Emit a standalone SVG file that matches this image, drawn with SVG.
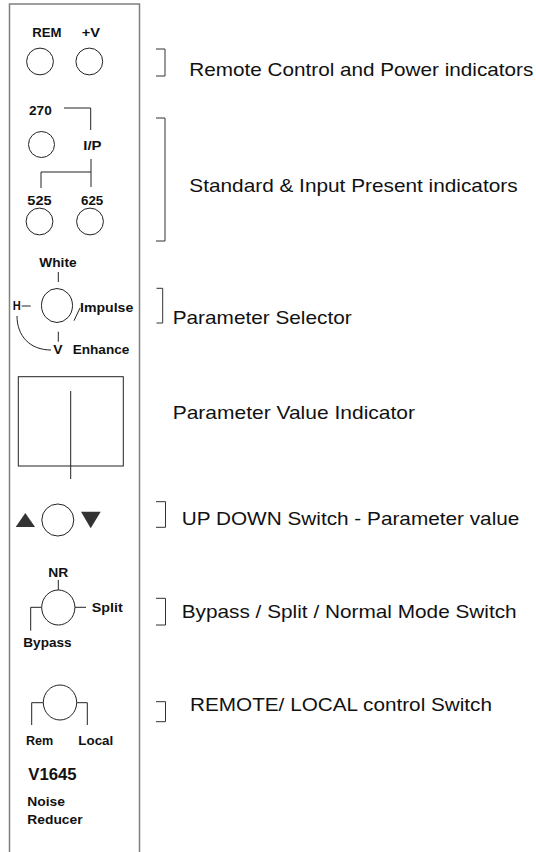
<svg xmlns="http://www.w3.org/2000/svg" width="536" height="852" viewBox="0 0 536 852">
<style>
.lbl{font-family:"Liberation Sans",Arial,sans-serif;font-weight:bold;font-size:12.5px;fill:#111}
.cap{font-family:"Liberation Sans",Arial,sans-serif;font-size:19px;fill:#111}
.ln{fill:none;stroke:#222;stroke-width:1}
.br{fill:none;stroke:#333;stroke-width:1}
.knob{fill:#fff;stroke:#222;stroke-width:1}
.tri{fill:#333}
</style>
<rect width="536" height="852" fill="#fff"/>
<g id="panel">
<path d="M9.5,860 V4 H139.5 V860" fill="none" stroke="#808080" stroke-width="1.5"/>
</g>
<g id="connectors">
<path class="ln" d="M64,108 H90.7 V130"/>
<path class="ln" d="M91,159 V187 M91,172 H41 V188"/>
<path class="ln" d="M58.3,272 V282"/>
<path class="ln" d="M21.7,306 H30.7"/>
<path class="ln" d="M74,320.7 L80,308"/>
<path class="ln" d="M58.3,331.7 V341.7"/>
<path class="ln" d="M17,316 C17,336 30,350 51,350"/>
<path class="ln" d="M70.7,391 V479"/>
<path class="ln" d="M58.3,580 V590"/>
<path class="ln" d="M75,607.3 H86"/>
<path class="ln" d="M41.7,607.3 H30.7 V630.7"/>
<path class="ln" d="M43.3,702.7 H31.7 V725"/>
<path class="ln" d="M76.7,702.7 H87.3 V725"/>
<path class="br" d="M156,49 H165 V76 H156"/>
<path class="br" d="M156,118 H165 V241 H156"/>
<path class="br" d="M156.5,288.3 H162.7 V323 H156.5"/>
<path class="br" d="M156,501.7 H165.5 V527.3 H156"/>
<path class="br" d="M156,598.3 H165.5 V625 H156"/>
<path class="br" d="M156,701.7 H165.5 V721.7 H156"/>
</g>
<g id="rem-indicator">
<text class="lbl" x="32.3" y="36.7" textLength="29.3" lengthAdjust="spacingAndGlyphs">REM</text>
<circle class="knob" cx="40" cy="61.5" r="13.4"/>
</g>
<g id="power-indicator">
<text class="lbl" x="81.7" y="36.7" textLength="18.3" lengthAdjust="spacingAndGlyphs">+V</text>
<circle class="knob" cx="89.3" cy="61.5" r="13.4"/>
</g>
<g id="ind-270">
<text class="lbl" x="29" y="115" textLength="22.7" lengthAdjust="spacingAndGlyphs">270</text>
<circle class="knob" cx="41.5" cy="144.5" r="13"/>
</g>
<g id="ind-ip">
<text class="lbl" x="83.3" y="150" textLength="18.3" lengthAdjust="spacingAndGlyphs">I/P</text>
</g>
<g id="ind-525">
<text class="lbl" x="27.3" y="205" textLength="24.3" lengthAdjust="spacingAndGlyphs">525</text>
<circle class="knob" cx="39.5" cy="221.5" r="13.4"/>
</g>
<g id="ind-625">
<text class="lbl" x="81" y="205" textLength="22.3" lengthAdjust="spacingAndGlyphs">625</text>
<circle class="knob" cx="90" cy="221.5" r="13.4"/>
</g>
<g id="parameter-selector">
<ellipse class="knob" cx="57" cy="305.5" rx="15.5" ry="17"/>
<text class="lbl" x="39.3" y="267" textLength="37.3" lengthAdjust="spacingAndGlyphs">White</text>
<text class="lbl" x="12.7" y="310" textLength="8" lengthAdjust="spacingAndGlyphs">H</text>
<text class="lbl" x="80" y="311.7" textLength="53.3" lengthAdjust="spacingAndGlyphs">Impulse</text>
<text class="lbl" x="53.3" y="354" textLength="9.3" lengthAdjust="spacingAndGlyphs">V</text>
<text class="lbl" x="72.7" y="354" textLength="56.7" lengthAdjust="spacingAndGlyphs">Enhance</text>
</g>
<g id="value-indicator">
<rect x="18.3" y="376.7" width="105" height="89.3" fill="none" stroke="#222" stroke-width="1"/>
</g>
<g id="updown-switch">
<polygon class="tri" points="25.3,513 15.7,527 35,527"/>
<circle class="knob" cx="57.8" cy="520" r="16"/>
<polygon class="tri" points="81,511.7 100.7,511.7 90.7,528.3"/>
</g>
<g id="mode-switch">
<text class="lbl" x="48.3" y="577.3" textLength="20" lengthAdjust="spacingAndGlyphs">NR</text>
<ellipse class="knob" cx="58.3" cy="607.5" rx="16.6" ry="17.5"/>
<text class="lbl" x="91.7" y="611.7" textLength="31" lengthAdjust="spacingAndGlyphs">Split</text>
<text class="lbl" x="23.3" y="646.7" textLength="48.3" lengthAdjust="spacingAndGlyphs">Bypass</text>
</g>
<g id="remote-local-switch">
<ellipse class="knob" cx="60" cy="702.5" rx="16.7" ry="17.5"/>
<text class="lbl" x="26" y="745" textLength="27.3" lengthAdjust="spacingAndGlyphs">Rem</text>
<text class="lbl" x="78.3" y="745" textLength="35" lengthAdjust="spacingAndGlyphs">Local</text>
</g>
<g id="model-label">
<text class="lbl" x="28.3" y="780" style="font-size:16px" textLength="48.3" lengthAdjust="spacingAndGlyphs">V1645</text>
<text class="lbl" x="27.3" y="806" style="font-size:13px" textLength="37.7" lengthAdjust="spacingAndGlyphs">Noise</text>
<text class="lbl" x="27.3" y="824" style="font-size:13px" textLength="55.3" lengthAdjust="spacingAndGlyphs">Reducer</text>
</g>
<g id="captions">
<text class="cap" x="189.3" y="75.5" textLength="344" lengthAdjust="spacingAndGlyphs">Remote Control and Power indicators</text>
<text class="cap" x="189.3" y="191.5" textLength="328.3" lengthAdjust="spacingAndGlyphs">Standard &amp; Input Present indicators</text>
<text class="cap" x="172.7" y="324" textLength="179" lengthAdjust="spacingAndGlyphs">Parameter Selector</text>
<text class="cap" x="172.7" y="419" textLength="242.3" lengthAdjust="spacingAndGlyphs">Parameter Value Indicator</text>
<text class="cap" x="181.7" y="525" textLength="337.7" lengthAdjust="spacingAndGlyphs">UP DOWN Switch - Parameter value</text>
<text class="cap" x="181.7" y="617.7" textLength="335" lengthAdjust="spacingAndGlyphs">Bypass / Split / Normal Mode Switch</text>
<text class="cap" x="190" y="711" textLength="302" lengthAdjust="spacingAndGlyphs">REMOTE/ LOCAL control Switch</text>
</g>
</svg>
